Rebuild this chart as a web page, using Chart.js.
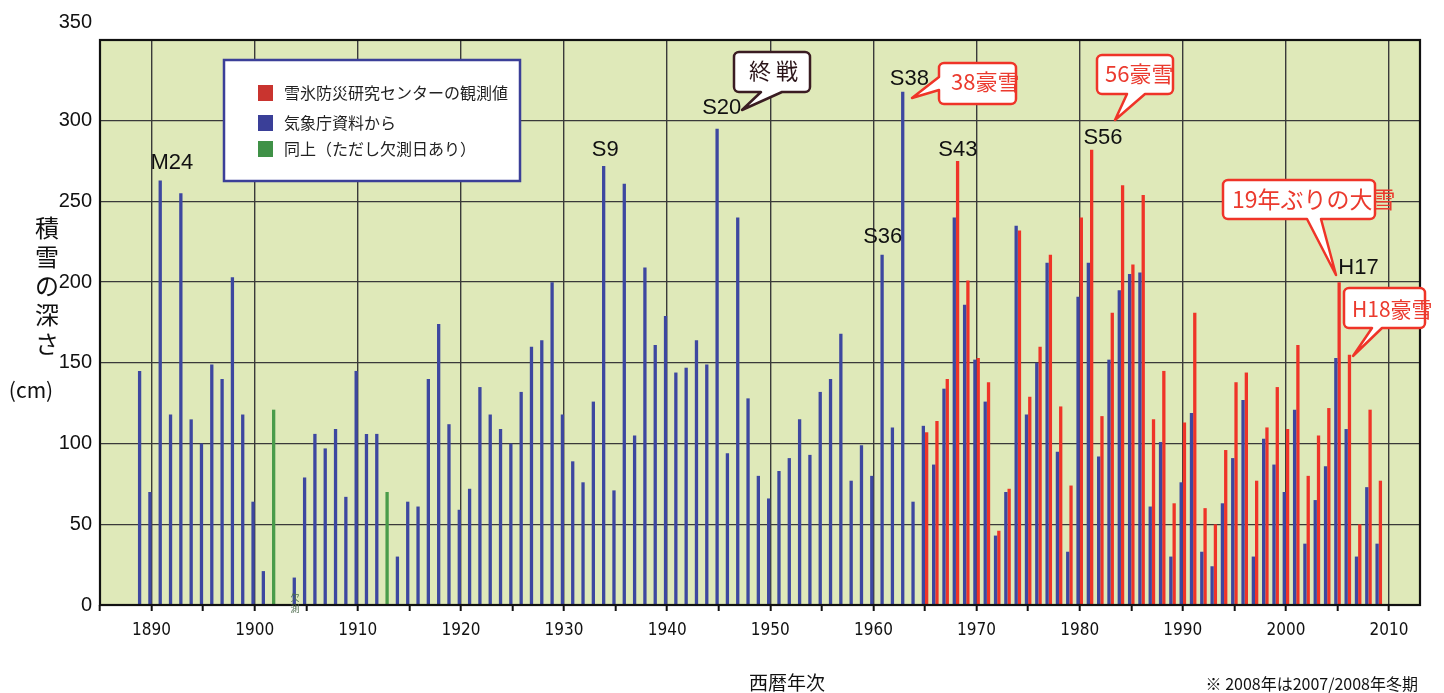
<!DOCTYPE html>
<html lang="ja">
<head>
<meta charset="utf-8">
<title>積雪の深さ</title>
<script src="https://cdn.jsdelivr.net/npm/chart.js@4.4.1/dist/chart.umd.min.js"></script>
<style>
  html, body { margin: 0; padding: 0; background: #fff; }
  #wrap { width: 1444px; height: 693px; }
</style>
</head>
<body>
<div id="wrap"><canvas id="c" width="1444" height="693"></canvas></div>
<script>
// x axis runs 1885..2013, one category per year
const axisYears = [];
for (let y = 1885; y <= 2013; y++) axisYears.push(y);

// 気象庁資料 (1889-2009), null = 欠測
const jmaStart = 1889;
const jmaDepth = [
  145, 70, 263, 118, 255, 115, 100, 149, 140, 203,   // 1889-1898
  118, 64, 21, 121, null, 17, 79, 106, 97, 109,      // 1899-1908
  67, 145, 106, 106, 70, 30, 64, 61, 140, 174,       // 1909-1918
  112, 59, 72, 135, 118, 109, 100, 132, 160, 164,    // 1919-1928
  200, 118, 89, 76, 126, 272, 71, 261, 105, 209,     // 1929-1938
  161, 179, 144, 147, 164, 149, 295, 94, 240, 128,   // 1939-1948
  80, 66, 83, 91, 115, 93, 132, 140, 168, 77,        // 1949-1958
  99, 80, 217, 110, 318, 64, 111, 87, 134, 240,      // 1959-1968
  186, 152, 126, 43, 70, 235, 118, 150, 212, 95,     // 1969-1978
  33, 191, 212, 92, 152, 195, 205, 206, 61, 101,     // 1979-1988
  30, 76, 119, 33, 24, 63, 91, 127, 30, 103,         // 1989-1998
  87, 70, 121, 38, 65, 86, 153, 109, 30, 73,         // 1999-2008
  38                                                 // 2009
];
// 同上（ただし欠測日あり）
const partialYears = [1902, 1913];

// 雪氷防災研究センターの観測値 (1965-2009)
const centerStart = 1965;
const centerDepth = [
  107, 114, 140, 275, 201, 153, 138, 46, 72, 232,    // 1965-1974
  129, 160, 217, 123, 74, 240, 282, 117, 181, 260,   // 1975-1984
  211, 254, 115, 145, 63, 113, 181, 60, 50, 96,      // 1985-1994
  138, 144, 77, 110, 135, 109, 161, 80, 105, 122,    // 1995-2004
  200, 155, 50, 121, 77                              // 2005-2009
];

const yTicks = [0, 50, 100, 150, 200, 250, 300, 350];

const BLUE = '#3d47a0', RED = '#ef3428', GREEN = '#4a9c4a';
const PLOT_BG = '#dfe9b9';
const JP = "'Noto Sans CJK JP', sans-serif";
const LAT = "'Liberation Sans', Arial, sans-serif";

function onAxis(start, values) {
  return axisYears.map(y => {
    const i = y - start;
    return (i >= 0 && i < values.length) ? values[i] : null;
  });
}
const jmaSeries = onAxis(jmaStart, jmaDepth);
const centerSeries = onAxis(centerStart, centerDepth);

// year labels above the bars: offsets from the bar top
const yearNotes = [
  { year: 1891, text: 'M24', dx: 10, dy: -18 },
  { year: 1934, text: 'S9', dx: 0, dy: -16 },
  { year: 1945, text: 'S20', dx: 3, dy: -21 },
  { year: 1961, text: 'S36', dx: -1, dy: -18 },
  { year: 1963, text: 'S38', dx: 5, dy: -13 },
  { year: 1968, text: 'S43', dx: 2, dy: -11 },
  { year: 1981, text: 'S56', dx: 13, dy: -12 },
  { year: 2005, text: 'H17', dx: 21, dy: -14 }
];

function callout(ctx, b) {
  const { x, y, w, h } = b, r = 5;
  ctx.save();
  ctx.beginPath();
  ctx.moveTo(x + r, y);
  ctx.lineTo(x + w - r, y); ctx.arcTo(x + w, y, x + w, y + r, r);
  ctx.lineTo(x + w, y + h - r); ctx.arcTo(x + w, y + h, x + w - r, y + h, r);
  if (b.side === 'bottom') {
    ctx.lineTo(x + b.b2, y + h); ctx.lineTo(b.tip[0], b.tip[1]); ctx.lineTo(x + b.b1, y + h);
  }
  ctx.lineTo(x + r, y + h); ctx.arcTo(x, y + h, x, y + h - r, r);
  if (b.side === 'left') {
    ctx.lineTo(x, y + b.b2); ctx.lineTo(b.tip[0], b.tip[1]); ctx.lineTo(x, y + b.b1);
  }
  ctx.lineTo(x, y + r); ctx.arcTo(x, y, x + r, y, r);
  ctx.closePath();
  ctx.fillStyle = '#fff';
  ctx.fill();
  ctx.lineWidth = 2.5;
  ctx.lineJoin = 'round';
  ctx.strokeStyle = b.stroke;
  ctx.stroke();
  ctx.fillStyle = b.color;
  ctx.font = b.font;
  ctx.textAlign = 'left';
  ctx.textBaseline = 'middle';
  ctx.fillText(b.text, b.tx, b.ty);
  ctx.restore();
}

const callouts = [
  { text: '終 戦', x: 734, y: 52, w: 76, h: 40, side: 'bottom', b1: 27, b2: 48, tip: [742, 110],
    stroke: '#3a1c22', color: '#2a1418', font: '22px ' + JP, tx: 749, ty: 71 },
  { text: '38豪雪', x: 939, y: 63, w: 77, h: 41, side: 'left', b1: 14, b2: 27, tip: [912, 98],
    stroke: RED, color: '#eb3a2e', font: '22px ' + JP, tx: 951, ty: 82 },
  { text: '56豪雪', x: 1097, y: 55, w: 76, h: 39, side: 'bottom', b1: 30, b2: 48, tip: [1115, 120],
    stroke: RED, color: '#eb3a2e', font: '22px ' + JP, tx: 1105, ty: 74 },
  { text: '19年ぶりの大雪', x: 1223, y: 180, w: 152, h: 39, side: 'bottom', b1: 84, b2: 98, tip: [1336, 275],
    stroke: RED, color: '#eb3a2e', font: '23px ' + JP, tx: 1232, ty: 199 },
  { text: 'H18豪雪', x: 1344, y: 288, w: 81, h: 40, side: 'bottom', b1: 28, b2: 38, tip: [1353, 356],
    stroke: RED, color: '#eb3a2e', font: '21px ' + JP, tx: 1352, ty: 309 }
];

const legendItems = [
  { text: '雪氷防災研究センターの観測値', color: '#c9342f' },
  { text: '気象庁資料から', color: '#3a3f98' },
  { text: '同上（ただし欠測日あり）', color: '#3f9147' }
];

const plotBackground = {
  id: 'plotBackground',
  beforeDraw(chart) {
    const { ctx, chartArea: a } = chart;
    ctx.save();
    ctx.fillStyle = PLOT_BG;
    ctx.fillRect(a.left, a.top, a.right - a.left, a.bottom - a.top);
    ctx.restore();
  }
};

const decorations = {
  id: 'decorations',
  afterDraw(chart) {
    const { ctx, chartArea: a } = chart;
    const xs = chart.scales.x, ys = chart.scales.y;
    ctx.save();
    // frame
    ctx.strokeStyle = '#111';
    ctx.lineWidth = 2.2;
    ctx.strokeRect(a.left, a.top, a.right - a.left, a.bottom - a.top);

    // top tick label sits above the frame
    ctx.fillStyle = '#111';
    ctx.font = '20px ' + LAT;
    ctx.textAlign = 'right';
    ctx.textBaseline = 'middle';
    ctx.fillText(String(yTicks[yTicks.length - 1]), 92, 22);

    // y axis title, vertical
    ctx.font = '24px ' + JP;
    ctx.textAlign = 'center';
    Array.from('積雪の深さ').forEach((ch, i) => ctx.fillText(ch, 47, 228 + i * 29));
    ctx.font = '21px ' + JP;
    ctx.fillText('(cm)', 31, 390);

    // x axis title and note
    ctx.font = '19px ' + JP;
    ctx.fillText('西暦年次', 787, 683);
    ctx.font = '16px ' + JP;
    ctx.textAlign = 'right';
    ctx.fillText('※ 2008年は2007/2008年冬期', 1418, 684);

    // 欠測 mark
    ctx.fillStyle = '#4d6b4d';
    ctx.font = '9px ' + JP;
    ctx.textAlign = 'center';
    ctx.fillText('欠', 295, 598);
    ctx.fillText('測', 295, 609);

    // year notes
    ctx.fillStyle = '#111';
    ctx.font = '22px ' + LAT;
    yearNotes.forEach(n => {
      const i = axisYears.indexOf(n.year);
      const top = Math.max(jmaSeries[i] || 0, centerSeries[i] || 0);
      ctx.fillText(n.text, xs.getPixelForValue(i) + n.dx, ys.getPixelForValue(top) + n.dy);
    });

    callouts.forEach(b => callout(ctx, b));

    // legend
    ctx.fillStyle = '#fff';
    ctx.fillRect(224, 60, 296, 121);
    ctx.strokeStyle = '#3b3f98';
    ctx.lineWidth = 2.5;
    ctx.strokeRect(224, 60, 296, 121);
    ctx.font = '16px ' + JP;
    ctx.textAlign = 'left';
    legendItems.forEach((it, i) => {
      const cy = [93, 123, 149][i];
      ctx.fillStyle = it.color;
      ctx.fillRect(258, cy - 8, 15, 16);
      ctx.fillStyle = '#222';
      ctx.fillText(it.text, 284, cy);
    });
    ctx.restore();
  }
};

new Chart(document.getElementById('c'), {
  type: 'bar',
  data: {
    labels: axisYears.map(String),
    datasets: [
      {
        label: '気象庁資料から',
        data: jmaSeries,
        backgroundColor: c => partialYears.includes(axisYears[c.dataIndex]) ? GREEN : BLUE
      },
      {
        label: '雪氷防災研究センターの観測値',
        data: centerSeries,
        backgroundColor: RED
      }
    ]
  },
  options: {
    responsive: false,
    animation: false,
    devicePixelRatio: 1,
    layout: { padding: { top: 40, right: 24, left: 0, bottom: 0 } },
    datasets: { bar: { categoryPercentage: 0.64, barPercentage: 1.0 } },
    plugins: { legend: { display: false }, tooltip: { enabled: false } },
    scales: {
      x: {
        offset: false,
        border: { display: false },
        grid: {
          offset: false,
          color: c => axisYears[c.index] % 10 === 0 ? '#3a3a3a' : 'rgba(0,0,0,0)',
          lineWidth: 1.4,
          tickColor: c => axisYears[c.index] % 5 === 0 ? '#111' : 'rgba(0,0,0,0)',
          tickLength: 6,
          tickWidth: 2
        },
        ticks: {
          autoSkip: false,
          maxRotation: 0,
          minRotation: 0,
          padding: 9,
          color: '#111',
          font: { size: 17, family: "'Liberation Sans Narrow', 'DejaVu Sans Condensed', sans-serif" },
          callback: (v, i) => axisYears[i] % 10 === 0 ? String(axisYears[i]) : ''
        },
        afterFit: s => { s.height = 88; }
      },
      y: {
        min: 0,
        max: 350,
        border: { display: false },
        grid: {
          color: c => (c.tick.value === 0 || c.tick.value === 350) ? 'rgba(0,0,0,0)' : '#3a3a3a',
          lineWidth: 1.3,
          drawTicks: false
        },
        ticks: {
          stepSize: 50,
          padding: 8,
          color: '#111',
          font: { size: 20, family: LAT },
          callback: v => v === 350 ? '' : String(v)
        },
        afterFit: s => { s.width = 100; }
      }
    }
  },
  plugins: [plotBackground, decorations]
});
</script>
</body>
</html>
